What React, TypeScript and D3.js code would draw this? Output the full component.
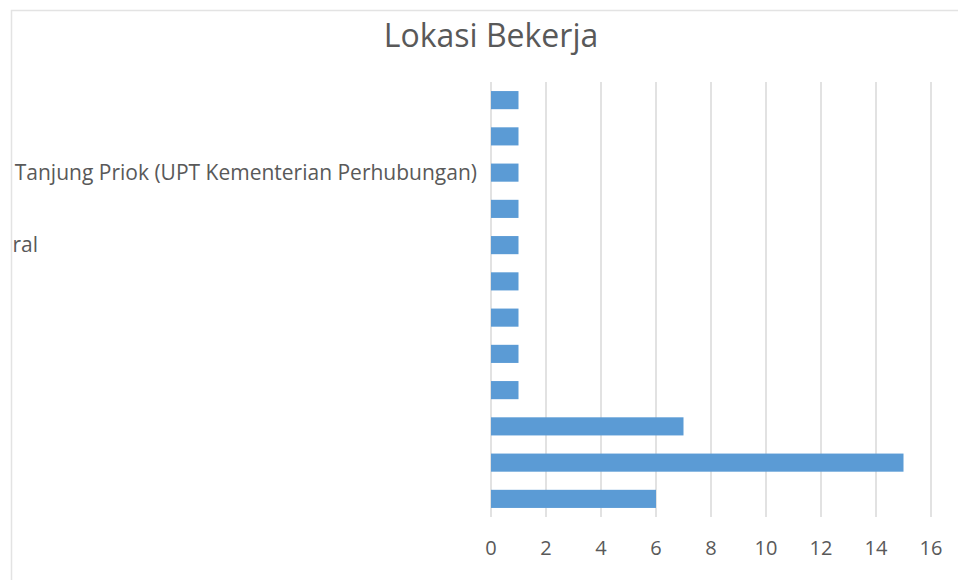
import React, { useEffect, useRef } from 'react';
import * as d3 from 'd3';

// categories top -> bottom (only two labels are visible in the crop)
const categories: string[] = [
    'c1', 'c2', 'Tanjung Priok (UPT Kementerian Perhubungan)', 'c4', 'ral',
    'c6', 'c7', 'c8', 'c9', 'c10', 'c11', 'c12',
];
const visibleLabels: string[] = ['', '', 'Tanjung Priok (UPT Kementerian Perhubungan)', '', 'ral', '', '', '', '', '', '', ''];
const values: number[] = [1, 1, 1, 1, 1, 1, 1, 1, 1, 7, 15, 6];
const xTicks: number[] = [0, 2, 4, 6, 8, 10, 12, 14, 16];

const W = 958;
const H = 580;

const App = () => {
    const svgRef = useRef<SVGSVGElement>(null);

    useEffect(() => {
        const svg = d3.select(svgRef.current);
        svg.selectAll('*').remove();

        const font = '"Open Sans", sans-serif';
        const textColor = '#595959';
        const frameLeft = 11.5;
        const frameTop = 10.5;

        // chart area frame
        svg.append('rect')
            .attr('x', frameLeft)
            .attr('y', frameTop)
            .attr('width', W)
            .attr('height', H)
            .attr('fill', 'white')
            .attr('stroke', '#e3e3e3')
            .attr('stroke-width', 1.5);

        svg.append('defs').append('clipPath')
            .attr('id', 'frameClip')
            .append('rect')
            .attr('x', frameLeft + 1)
            .attr('y', frameTop)
            .attr('width', W)
            .attr('height', H);

        // title
        svg.append('text')
            .attr('x', 491)
            .attr('y', 47)
            .attr('text-anchor', 'middle')
            .style('font-family', font)
            .style('font-size', '32px')
            .style('fill', textColor)
            .text('Lokasi Bekerja');

        const x = d3.scaleLinear().domain([0, 16]).range([491, 931]);
        const y = d3.scaleBand<string>()
            .domain(categories)
            .range([82, 517])
            .paddingInner(0.5)
            .paddingOuter(0.25);

        // gridlines
        svg.append('g')
            .selectAll('line')
            .data(xTicks)
            .enter()
            .append('line')
            .attr('x1', d => x(d))
            .attr('x2', d => x(d))
            .attr('y1', 82)
            .attr('y2', 517)
            .attr('stroke', '#d9d9d9')
            .attr('stroke-width', 1.5);

        // bars
        svg.append('g')
            .selectAll('rect')
            .data(values)
            .enter()
            .append('rect')
            .attr('x', x(0))
            .attr('y', (d, i) => y(categories[i]) as number)
            .attr('width', d => x(d) - x(0))
            .attr('height', y.bandwidth())
            .attr('fill', '#5b9bd5');

        // x tick labels
        svg.append('g')
            .selectAll('text')
            .data(xTicks)
            .enter()
            .append('text')
            .attr('x', d => x(d))
            .attr('y', 555)
            .attr('text-anchor', 'middle')
            .style('font-family', font)
            .style('font-size', '20px')
            .style('fill', textColor)
            .text(d => d);

        // category labels, clipped by the frame
        const labels = svg.append('g').attr('clip-path', 'url(#frameClip)');
        visibleLabels.forEach((label, i) => {
            if (!label) return;
            const cy = (y(categories[i]) as number) + y.bandwidth() / 2;
            const isFragment = label === 'ral';
            labels.append('text')
                .attr('x', isFragment ? frameLeft + 1 : 477)
                .attr('y', cy)
                .attr('dy', '0.35em')
                .attr('text-anchor', isFragment ? 'start' : 'end')
                .style('font-family', font)
                .style('font-size', '21px')
                .style('fill', textColor)
                .text(label);
        });
    }, []);

    return (
        <svg ref={svgRef} width={W} height={H}
            style={{ position: 'absolute', left: 0, top: 0, background: 'white' }}></svg>
    );
};

export default App;
